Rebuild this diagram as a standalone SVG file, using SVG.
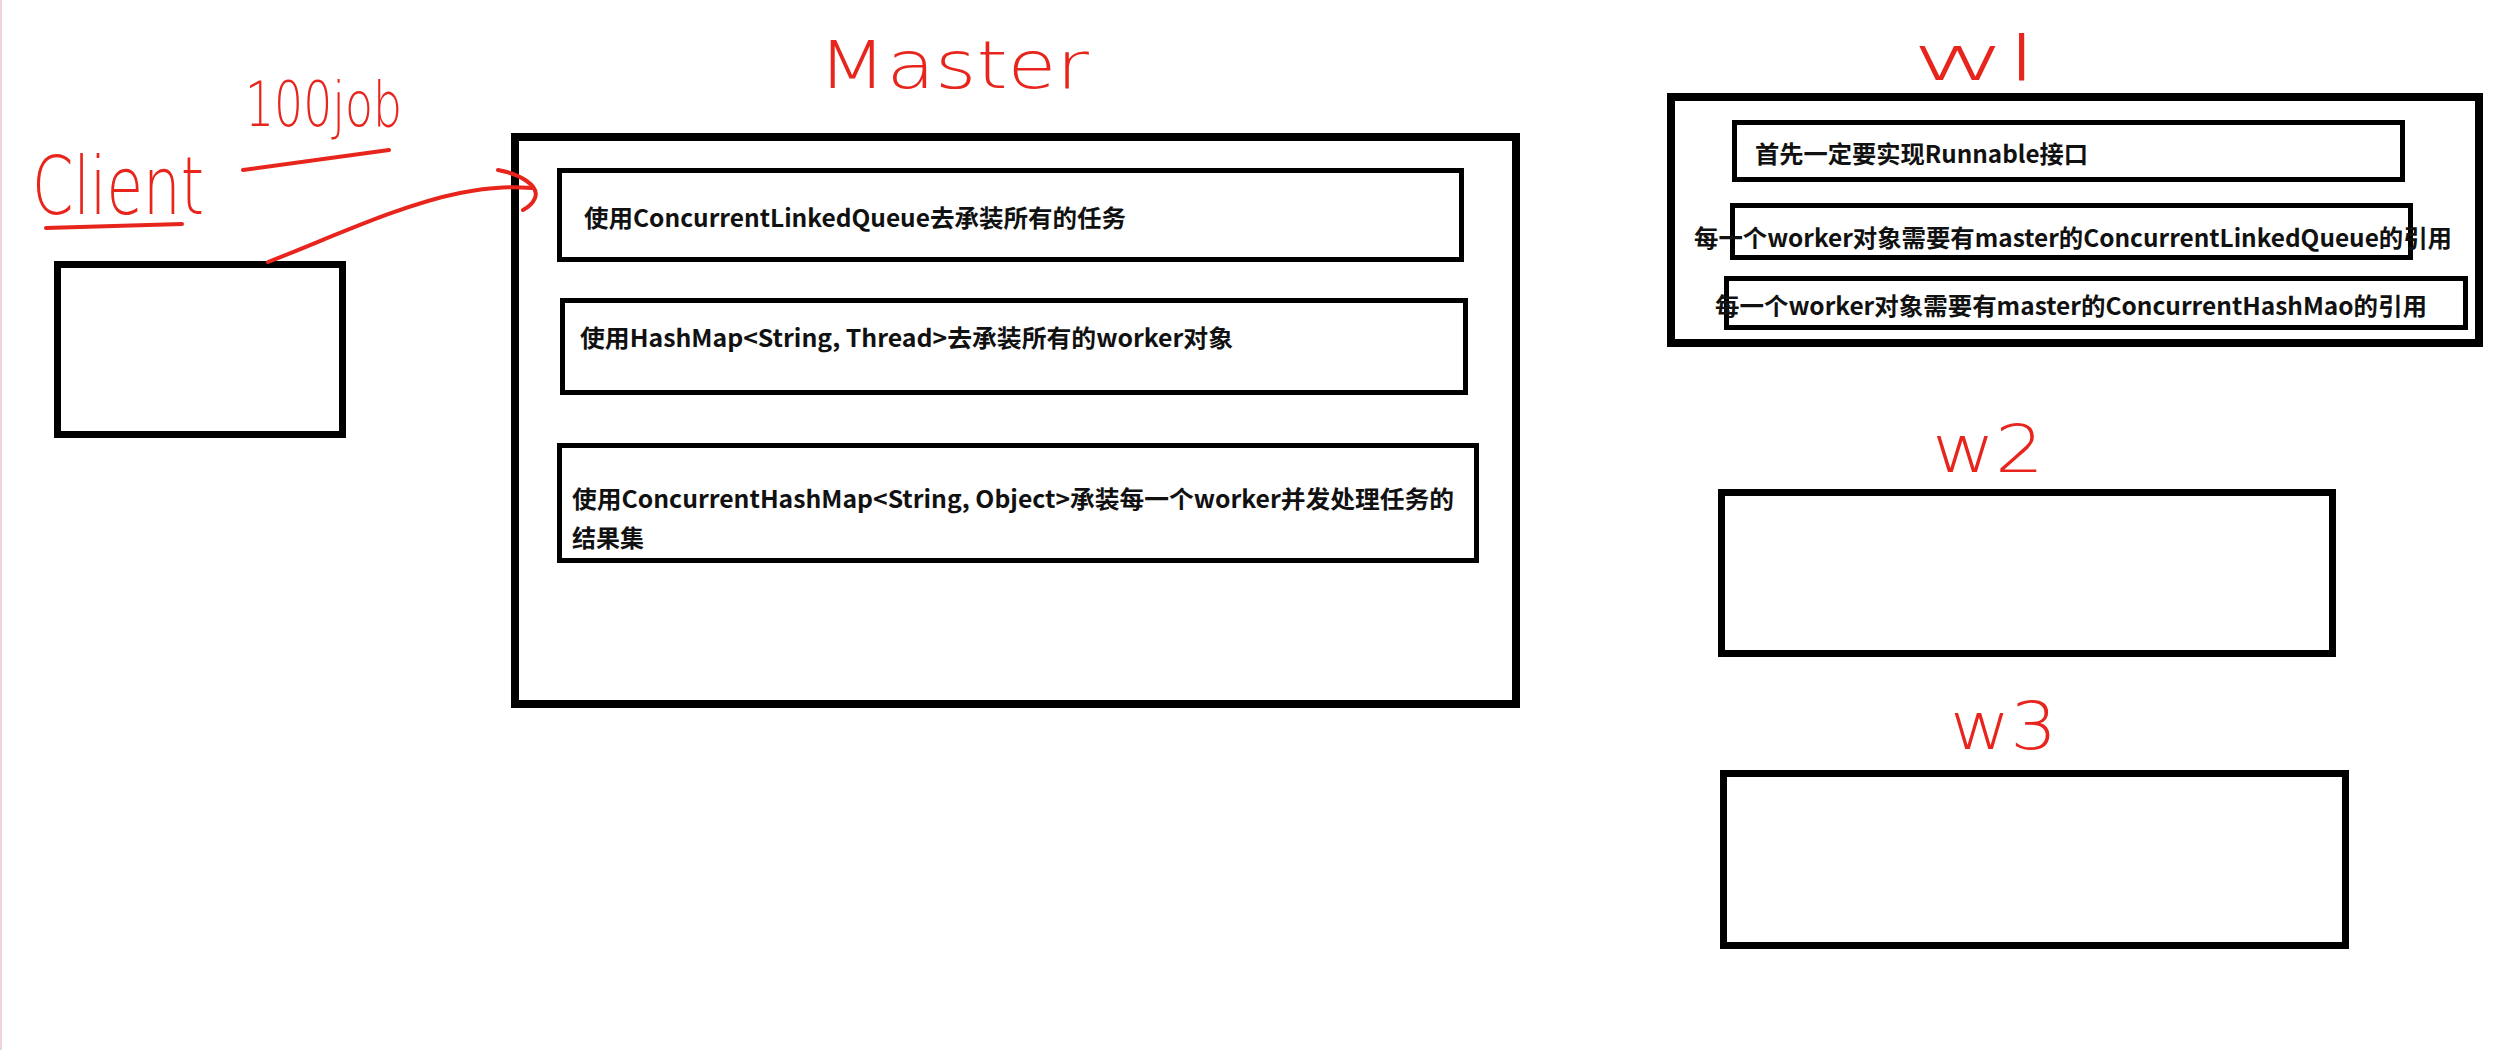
<svg xmlns="http://www.w3.org/2000/svg" width="2514" height="1050" viewBox="0 0 2514 1050">
<style>
.box{fill:none;stroke:#000;}
.outer{stroke-width:8;}
.inner{stroke-width:5;}
.mid{stroke-width:7;}
.t{font-family:"Noto Sans CJK SC","Noto Sans",sans-serif;font-weight:bold;font-size:24px;fill:#111;}
.hw{font-family:"DejaVu Sans","Noto Sans",sans-serif;font-weight:200;fill:#e8251c;}
.red{fill:none;stroke:#e8251c;stroke-width:4;stroke-linecap:round;stroke-linejoin:round;}
</style>
<rect x="0" y="0" width="2514" height="1050" fill="#ffffff"/>
<line x1="1" y1="0" x2="1" y2="1050" stroke="#ecd6dc" stroke-width="2"/>

<g id="client">
<rect class="box mid" x="57.5" y="264.5" width="285" height="170"/>
<text class="hw" x="32" y="214" font-size="80" textLength="172" lengthAdjust="spacingAndGlyphs">Client</text>
<path class="red" d="M46,228 L182,224"/>
</g>

<g id="job-label">
<text class="hw" x="245" y="126" font-size="62" textLength="157" lengthAdjust="spacingAndGlyphs">100job</text>
<path class="red" d="M243,170 L389,150"/>
</g>

<g id="master">
<text class="hw" x="818" y="88" font-size="66" textLength="271" lengthAdjust="spacingAndGlyphs">Master</text>
<rect class="box outer" x="515" y="137" width="1001" height="567"/>
<g id="master-queue">
<rect class="box inner" x="559.5" y="170.5" width="902" height="89"/>
<text class="t" x="584" y="227" textLength="542" lengthAdjust="spacingAndGlyphs">使用ConcurrentLinkedQueue去承装所有的任务</text>
</g>
<g id="master-workers">
<rect class="box inner" x="562.5" y="300.5" width="903" height="92"/>
<text class="t" x="580" y="347" textLength="653" lengthAdjust="spacingAndGlyphs">使用HashMap&lt;String, Thread&gt;去承装所有的worker对象</text>
</g>
<g id="master-results">
<rect class="box inner" x="559.5" y="445.5" width="917" height="115"/>
<text class="t" x="572" y="508" textLength="882" lengthAdjust="spacingAndGlyphs">使用ConcurrentHashMap&lt;String, Object&gt;承装每一个worker并发处理任务的</text>
<text class="t" x="572" y="547" textLength="72" lengthAdjust="spacingAndGlyphs">结果集</text>
</g>
</g>

<g id="w1">
<text class="hw" x="1912" y="80" font-size="62" textLength="126" lengthAdjust="spacingAndGlyphs">wl</text>
<rect class="box outer" x="1671" y="97" width="808" height="246"/>
<g id="w1-runnable">
<rect class="box inner" x="1734.5" y="122.5" width="668" height="57"/>
<text class="t" x="1755" y="163" textLength="333" lengthAdjust="spacingAndGlyphs">首先一定要实现Runnable接口</text>
</g>
<g id="w1-queue-ref">
<rect class="box inner" x="1732.5" y="205.5" width="678" height="52"/>
<text class="t" x="1694" y="247" textLength="758" lengthAdjust="spacingAndGlyphs">每一个worker对象需要有master的ConcurrentLinkedQueue的引用</text>
</g>
<g id="w1-map-ref">
<rect class="box inner" x="1726.5" y="278.5" width="739" height="49"/>
<text class="t" x="1715" y="315" textLength="712" lengthAdjust="spacingAndGlyphs">每一个worker对象需要有master的ConcurrentHashMao的引用</text>
</g>
</g>

<g id="w2">
<text class="hw" x="1932" y="472" font-size="66" textLength="112" lengthAdjust="spacingAndGlyphs">w2</text>
<rect class="box mid" x="1721.5" y="492.5" width="611" height="161"/>
</g>

<g id="w3">
<text class="hw" x="1950" y="749" font-size="66" textLength="107" lengthAdjust="spacingAndGlyphs">w3</text>
<rect class="box mid" x="1723.5" y="773.5" width="622" height="172"/>
</g>

<g id="connectors">
<path class="red" d="M268,262 C330,238 400,205 460,193 C495,186 515,187 532,188"/>
<path class="red" d="M498,170 C520,174 540,186 535,198 C532,205 527,208 523,210"/>
</g>
</svg>
